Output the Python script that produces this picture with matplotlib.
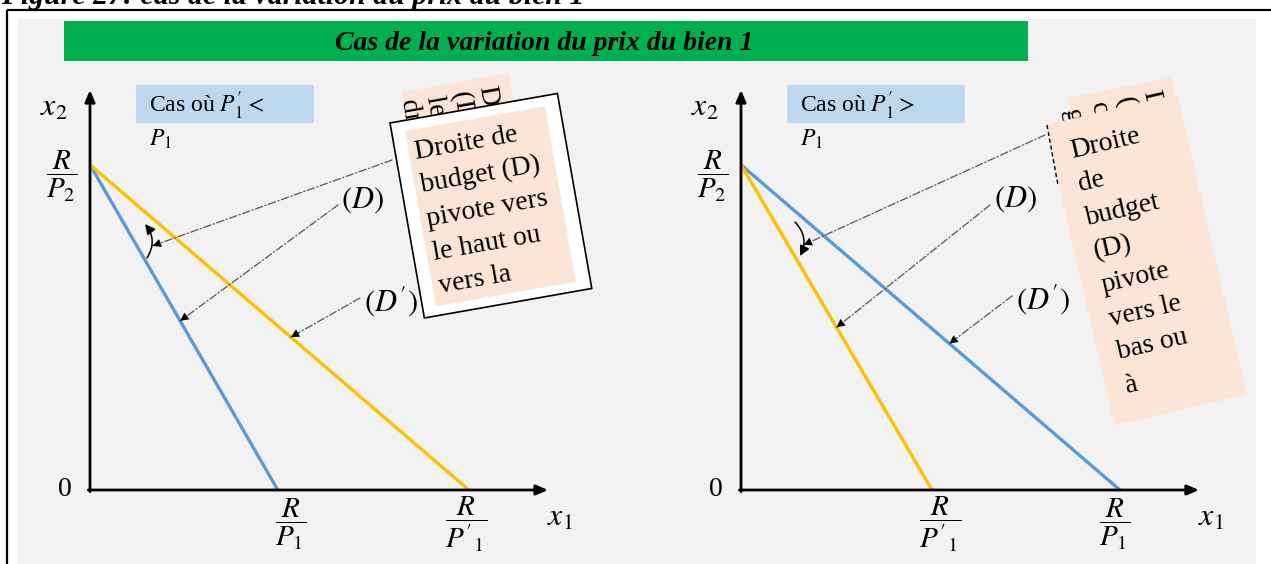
import matplotlib.pyplot as plt
import numpy as np
from matplotlib.patches import Polygon, Rectangle

plt.rcParams['font.family'] = ['Liberation Serif', 'DejaVu Serif']
plt.rcParams['mathtext.fontset'] = 'stix'

W, H = 1271, 564
BLUE = '#5b9bd5'
GOLD = '#ffc000'
PEACH = '#fbe5d6'
CASE_BLUE = '#bdd7ee'
GREEN = '#00b050'

# budget line intercepts (units chosen so that R/P2 = 10)
R_P2 = 10.0
left_R_P1, left_R_P1_new = 5.7, 11.5      # case P1' < P1
right_R_P1, right_R_P1_new = 11.5, 5.8    # case P1' > P1
x_max, y_max = 13.9, 12.3

title = 'Figure 27: cas de la variation du prix du bien 1'
banner = 'Cas de la variation du prix du bien 1'
case_texts = ["Cas où $P_1' <$", "Cas où $P_1' >$"]
callout_left = 'Droite de\nbudget (D)\npivote vers\nle haut ou\nvers la'
callout_left_back = 'Droite de\n(D) pivote\nle haut\ndroi'
callout_right = 'Droite\nde\nbudget\n(D)\npivote\nvers le\nbas ou\nà'
callout_right_back = 'Droite\n(D)\nc\ng'

fig = plt.figure(figsize=(W / 100, H / 100), dpi=100)


def px_axes(z):
    a = fig.add_axes([0, 0, 1, 1], zorder=z)
    a.set_xlim(0, W)
    a.set_ylim(H, 0)
    a.axis('off')
    a.patch.set_alpha(0)
    return a


def rot_rect(tl, w, h, ang):
    a = np.radians(ang)
    u = np.array([np.cos(a), -np.sin(a)])
    v = np.array([np.sin(a), np.cos(a)])
    tl = np.array(tl, float)
    return [tl, tl + w * u, tl + w * u + h * v, tl + h * v]


# background, frame and banner
bg = px_axes(0)
bg.add_patch(Rectangle((18, 19), 1238, H - 19, color='#f2f2f2', lw=0))
bg.plot([7, W], [10, 10], color='k', lw=1.6, solid_capstyle='butt')
bg.plot([7, 7], [10, H], color='k', lw=1.6, solid_capstyle='butt')
bg.add_patch(Rectangle((64, 21), 964, 40, color=GREEN, lw=0))
bg.text(544, 43, banner, fontsize=20, weight='bold', style='italic',
        ha='center', va='center')
fig.text(1 / W, 1 - 4 / H, title, fontsize=21.5, weight='bold',
         style='italic', va='baseline')

for x0, txt in zip([136, 787], case_texts):
    bg.add_patch(Rectangle((x0, 85), 178, 38, color=CASE_BLUE, lw=0))
    bg.text(x0 + 13, 113, txt, fontsize=17, va='baseline')
    bg.text(x0 + 13, 146, '$P_1$', fontsize=17, va='baseline')


def panel(x0, r_blue, r_gold, lbl_blue, lbl_gold):
    ax = fig.add_axes([x0 / W, (H - 490) / H, 458 / W, 400 / H], zorder=1)
    ax.set_xlim(0, x_max)
    ax.set_ylim(0, y_max)
    ax.axis('off')
    ax.patch.set_alpha(0)
    axis_arrow = dict(arrowstyle='-|>,head_length=0.7,head_width=0.3',
                      color='k', lw=2, shrinkA=0, shrinkB=0)
    ax.annotate('', xy=(0, y_max), xytext=(0, -0.05), arrowprops=axis_arrow)
    ax.annotate('', xy=(x_max, 0), xytext=(-0.05, 0), arrowprops=axis_arrow)

    ax.plot([0, r_blue], [R_P2, 0], color=BLUE, lw=2.4, solid_capstyle='butt')
    ax.plot([0, r_gold], [R_P2, 0], color=GOLD, lw=2.4, solid_capstyle='butt')

    kw = dict(textcoords='offset pixels', ha='center', va='center',
              annotation_clip=False)
    ax.annotate('$x_2$', xy=(0, y_max), xytext=(-36, -18), fontsize=23, **kw)
    ax.annotate('$x_1$', xy=(x_max, 0), xytext=(12, -28), fontsize=23, **kw)
    ax.annotate('0', xy=(0, 0), xytext=(-25, 0), fontsize=20, **kw)
    ax.annotate(r'$\dfrac{R}{P_2}$', xy=(0, R_P2), xytext=(-28, -12),
                fontsize=21, **kw)
    ax.annotate(lbl_blue[0], xy=(r_blue, 0), xytext=(lbl_blue[1], -34),
                fontsize=21, **kw)
    ax.annotate(lbl_gold[0], xy=(r_gold, 0), xytext=(lbl_gold[1], -34),
                fontsize=21, **kw)
    return ax


def on_line(r, t):
    return (t * r, (1 - t) * R_P2)


def leader(ax, target, start_px):
    start = (start_px[0], H - start_px[1])
    ax.annotate('', xy=target, xytext=start, textcoords='figure pixels',
                arrowprops=dict(arrowstyle='-', ls=(0, (6, 2, 1, 2)),
                                color='#555555', lw=0.9,
                                shrinkA=0, shrinkB=0))
    ax.annotate('', xy=target, xytext=start, textcoords='figure pixels',
                arrowprops=dict(arrowstyle='-|>,head_length=0.6,head_width=0.3',
                                color='k', lw=0, shrinkA=0, shrinkB=0))


def arc(ax, p0_px, p1_px, rad):
    ax.annotate('', xy=(p1_px[0], H - p1_px[1]), xycoords='figure pixels',
                xytext=(p0_px[0], H - p0_px[1]), textcoords='figure pixels',
                arrowprops=dict(arrowstyle='-|>,head_length=0.6,head_width=0.3',
                                color='k', lw=1.1, shrinkA=0, shrinkB=0,
                                connectionstyle=f'arc3,rad={rad}'))


# left panel: P1' < P1
ax1 = panel(90, left_R_P1, left_R_P1_new,
            (r'$\dfrac{R}{P_1}$', 13), (r"$\dfrac{R}{P'_1}$", -3))
x_mid = 1.9
mid1 = (x_mid, 0.5 * (R_P2 * (1 - x_mid / left_R_P1) +
                      R_P2 * (1 - x_mid / left_R_P1_new)))
leader(ax1, mid1, (392, 160))
leader(ax1, on_line(left_R_P1, 0.48), (338, 205))
leader(ax1, on_line(left_R_P1_new, 0.53), (360, 298))
arc(ax1, (147, 258), (145, 224), 0.35)

# right panel: P1' > P1
ax2 = panel(741, right_R_P1, right_R_P1_new,
            (r'$\dfrac{R}{P_1}$', -5), (r"$\dfrac{R}{P'_1}$", 8))
mid2 = (x_mid, 0.5 * (R_P2 * (1 - x_mid / right_R_P1) +
                      R_P2 * (1 - x_mid / right_R_P1_new)))
leader(ax2, mid2, (1045, 135))
leader(ax2, on_line(right_R_P1_new, 0.50), (990, 205))
leader(ax2, on_line(right_R_P1, 0.55), (1012, 296))
arc(ax2, (795, 222), (800, 256), -0.35)

# labels (D), (D')
ov = px_axes(3)
for x, y, s in [(362, 200, '$(D)$'), (391, 301, "$(D')$"),
                (1015, 199, '$(D)$'), (1043, 299, "$(D')$")]:
    ov.text(x, y, s, fontsize=22, ha='center', va='center')

# left callout
ov.add_patch(Polygon(rot_rect((402, 92), 108, 150, 10), color=PEACH, lw=0))
ov.text(499, 84, callout_left_back, fontsize=20, rotation=-80,
        rotation_mode='anchor', ha='left', va='top', linespacing=1.1)
ov.add_patch(Polygon(rot_rect((390, 123), 170, 198, 10), facecolor='white',
                     edgecolor='k', lw=1.2, zorder=3))
ov.add_patch(Polygon(rot_rect((405, 131), 142, 178, 10), color=PEACH,
                     lw=0, zorder=4))
ov.text(413, 140, callout_left, fontsize=20, rotation=10,
        rotation_mode='anchor', ha='left', va='top', linespacing=1.48,
        zorder=5)

# right callout
ov.add_patch(Polygon(rot_rect((1067, 98), 107, 100, 11), color=PEACH, lw=0))
ov.text(1162, 88, callout_right_back, fontsize=20, rotation=-77,
        rotation_mode='anchor', ha='left', va='top', linespacing=1.1)
ov.add_patch(Polygon(rot_rect((1045, 125), 136, 308, 13), color=PEACH,
                     lw=0, zorder=3))
ov.plot([1047, 1058], [125, 185], color='k', lw=1, ls=(0, (3, 2)), zorder=4)
ov.text(1068, 139, callout_right, fontsize=20, rotation=13,
        rotation_mode='anchor', ha='left', va='top', linespacing=1.5,
        zorder=5)

fig.savefig('out.png', dpi=100)
